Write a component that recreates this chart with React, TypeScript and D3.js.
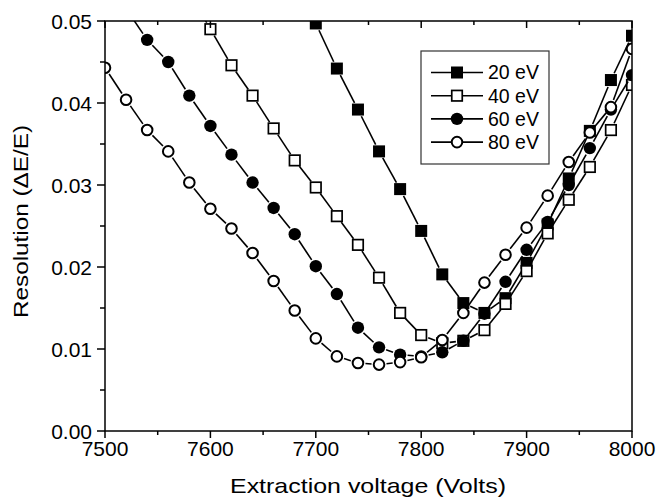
import React from 'react';
import * as d3 from 'd3';

// values, one point every 20 V (first/last may sit outside the axes and get clipped)
const voltages20 = [7680, 7700, 7720, 7740, 7760, 7780, 7800, 7820, 7840, 7860, 7880, 7900, 7920, 7940, 7960, 7980, 8000];
const res20 = [0.0550, 0.0497, 0.0442, 0.0392, 0.0341, 0.0295, 0.0244, 0.0191, 0.0156, 0.0144, 0.0162, 0.0205, 0.0252, 0.0308, 0.0366, 0.0428, 0.0482];

const voltages40 = [7580, 7600, 7620, 7640, 7660, 7680, 7700, 7720, 7740, 7760, 7780, 7800, 7820, 7840, 7860, 7880, 7900, 7920, 7940, 7960, 7980, 8000];
const res40 = [0.0535, 0.0490, 0.0446, 0.0409, 0.0369, 0.0330, 0.0297, 0.0262, 0.0227, 0.0187, 0.0144, 0.0117, 0.0107, 0.0110, 0.0123, 0.0155, 0.0195, 0.0241, 0.0282, 0.0322, 0.0367, 0.0422];

const voltages60 = [7520, 7540, 7560, 7580, 7600, 7620, 7640, 7660, 7680, 7700, 7720, 7740, 7760, 7780, 7800, 7820, 7840, 7860, 7880, 7900, 7920, 7940, 7960, 7980, 8000];
const res60 = [0.0515, 0.0477, 0.0450, 0.0409, 0.0372, 0.0337, 0.0303, 0.0272, 0.0240, 0.0201, 0.0167, 0.0126, 0.0102, 0.0093, 0.0091, 0.0096, 0.0110, 0.0143, 0.0182, 0.0221, 0.0255, 0.0300, 0.0345, 0.0392, 0.0434];

const voltages80 = [7500, 7520, 7540, 7560, 7580, 7600, 7620, 7640, 7660, 7680, 7700, 7720, 7740, 7760, 7780, 7800, 7820, 7840, 7860, 7880, 7900, 7920, 7940, 7960, 7980, 8000];
const res80 = [0.0443, 0.0404, 0.0367, 0.0341, 0.0303, 0.0271, 0.0247, 0.0217, 0.0183, 0.0147, 0.0113, 0.0091, 0.0083, 0.0081, 0.0084, 0.0090, 0.0111, 0.0144, 0.0181, 0.0215, 0.0248, 0.0287, 0.0328, 0.0364, 0.0395, 0.0466];

const seriesNames = ['20 eV', '40 eV', '60 eV', '80 eV'];
const xTicks = [7500, 7600, 7700, 7800, 7900, 8000];
const yTicks = [0, 0.01, 0.02, 0.03, 0.04, 0.05];

const W = 657;
const H = 502;
const left = 105, right = 632, top = 21, bottom = 431;
const font = 'Liberation Sans, Arial, sans-serif';

const x = d3.scaleLinear().domain([7500, 8000]).range([left, right]);
const y = d3.scaleLinear().domain([0, 0.05]).range([bottom, top]);

const series = [
  { name: seriesNames[0], shape: 'square', filled: true, xs: voltages20, ys: res20 },
  { name: seriesNames[1], shape: 'square', filled: false, xs: voltages40, ys: res40 },
  { name: seriesNames[2], shape: 'circle', filled: true, xs: voltages60, ys: res60 },
  { name: seriesNames[3], shape: 'circle', filled: false, xs: voltages80, ys: res80 },
];

const Marker = ({ shape, filled, cx, cy }) => {
  const fill = filled ? '#000' : '#fff';
  if (shape === 'square') {
    const s = filled ? 12 : 10.5;
    return <rect x={cx - s / 2} y={cy - s / 2} width={s} height={s} fill={fill} stroke="#000" strokeWidth={filled ? 0 : 1.7} />;
  }
  return <circle cx={cx} cy={cy} r={filled ? 6.2 : 5.3} fill={fill} stroke="#000" strokeWidth={filled ? 0 : 2} />;
};

// Origin-style lines: each segment stops short of the markers
const gapSegments = (pts, gap) => {
  const segs = [];
  for (let i = 0; i < pts.length - 1; i++) {
    const [x1, y1] = pts[i];
    const [x2, y2] = pts[i + 1];
    const len = Math.hypot(x2 - x1, y2 - y1);
    if (len <= 2 * gap + 1) continue;
    const ux = (x2 - x1) / len, uy = (y2 - y1) / len;
    segs.push([x1 + ux * gap, y1 + uy * gap, x2 - ux * gap, y2 - uy * gap]);
  }
  return segs;
};

const App = () => {
  const minorX = d3.range(7550, 8000, 100);
  const minorY = d3.range(0.005, 0.05, 0.01);
  const legendX = 421, legendY = 51;

  return (
    <svg width={W} height={H} style={{ position: 'absolute', left: 0, top: 0, background: '#fff' }} fontFamily={font}>
      <defs>
        <clipPath id="plotClip">
          <rect x={left} y={top} width={right - left} height={bottom - top} />
        </clipPath>
      </defs>

      <g clipPath="url(#plotClip)">
        {series.map(s => {
          const pts = s.xs.map((v, i) => [x(v), y(s.ys[i])]);
          return (
            <g key={s.name}>
              {gapSegments(pts, 7.5).map((d, i) => (
                <line key={i} x1={d[0]} y1={d[1]} x2={d[2]} y2={d[3]} stroke="#000" strokeWidth={1.6} />
              ))}
              {pts.map((p, i) => (
                <Marker key={i} shape={s.shape} filled={s.filled} cx={p[0]} cy={p[1]} />
              ))}
            </g>
          );
        })}
      </g>

      {/* frame */}
      <rect x={left} y={top} width={right - left} height={bottom - top} fill="none" stroke="#000" strokeWidth={1.5} />

      {/* bottom axis, mirrored inward on top */}
      {xTicks.map(t => (
        <g key={t}>
          <line x1={x(t)} x2={x(t)} y1={bottom} y2={bottom + 7} stroke="#000" strokeWidth={1.5} />
          <line x1={x(t)} x2={x(t)} y1={top} y2={top + 7} stroke="#000" strokeWidth={1.5} />
          <text x={x(t)} y={bottom + 25} fontSize={21} textAnchor="middle">{t}</text>
        </g>
      ))}
      {minorX.map(t => (
        <g key={t}>
          <line x1={x(t)} x2={x(t)} y1={bottom} y2={bottom + 4} stroke="#000" strokeWidth={1.5} />
          <line x1={x(t)} x2={x(t)} y1={top} y2={top + 4} stroke="#000" strokeWidth={1.5} />
        </g>
      ))}

      {/* left axis */}
      {yTicks.map(t => (
        <g key={t}>
          <line x1={left - 8} x2={left} y1={y(t)} y2={y(t)} stroke="#000" strokeWidth={1.5} />
          <text x={left - 13} y={y(t) + 7.5} fontSize={21} textAnchor="end">{d3.format('.2f')(t)}</text>
        </g>
      ))}
      {minorY.map(t => (
        <line key={t} x1={left - 5} x2={left} y1={y(t)} y2={y(t)} stroke="#000" strokeWidth={1.5} />
      ))}

      {/* axis titles */}
      <text x={368} y={493} fontSize={21} textAnchor="middle" textLength={276} lengthAdjust="spacingAndGlyphs">
        Extraction voltage (Volts)
      </text>
      <text transform={`translate(28, 221.5) rotate(-90)`} fontSize={21} textAnchor="middle" textLength={193} lengthAdjust="spacingAndGlyphs">
        Resolution (ΔE/E)
      </text>

      {/* legend */}
      <rect x={legendX} y={legendY} width={128} height={113} fill="#fff" stroke="#333" strokeWidth={1.2} />
      {series.map((s, i) => {
        const cy = 72.5 + i * 23.2;
        return (
          <g key={s.name}>
            <line x1={431} x2={483} y1={cy} y2={cy} stroke="#000" strokeWidth={1.6} />
            <Marker shape={s.shape} filled={s.filled} cx={457} cy={cy} />
            <text x={488} y={cy + 6.8} fontSize={19.5}>{s.name}</text>
          </g>
        );
      })}
    </svg>
  );
};

export default App;
